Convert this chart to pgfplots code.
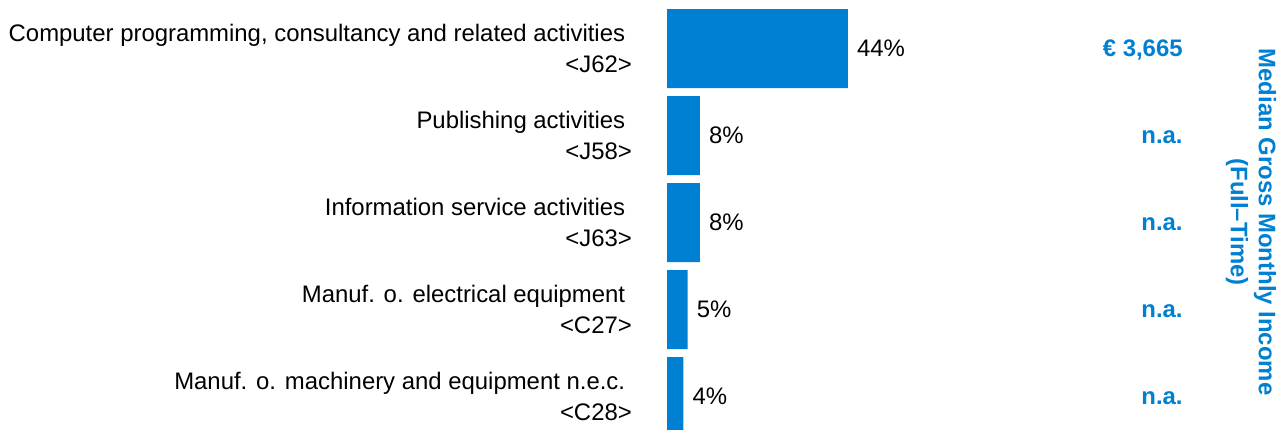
\documentclass[border=0pt]{standalone}
\usepackage{fontspec}
\setmainfont{Liberation Sans}
\usepackage{pgfplots}
\pgfplotsset{compat=1.18}
\definecolor{barblue}{HTML}{0080D2}
\newcommand{\chartfont}{\fontsize{23.9}{30.5}\selectfont}

\begin{document}
\begin{tikzpicture}
\path[use as bounding box] (0,0) rectangle (1284pt,-430pt);
\begin{axis}[
  at={(667pt,-5pt)}, anchor=north west,
  scale only axis, width=411pt, height=435pt,
  xmin=0, xmax=100, ymin=-0.5, ymax=4.5, y dir=reverse,
  clip=false,
  axis line style={draw=none},
  xtick=\empty,
  ytick={0,1,2,3,4},
  major tick length=0pt,
  yticklabels={
    {Computer programming, consultancy and related activities\kern0.28em\\<J62>},
    {Publishing activities\kern0.28em\\<J58>},
    {Information service activities\kern0.28em\\<J63>},
    {Manuf. o. electrical equipment\kern0.28em\\<C27>},
    {Manuf. o. machinery and equipment n.e.c.\kern0.28em\\<C28>}},
  yticklabel style={align=right, anchor=east, inner sep=0pt, xshift=-35pt, font=\chartfont},
  xbar, bar width=0.908,
  point meta=x,
  /pgf/number format/assume math mode=true,
  nodes near coords={\pgfmathprintnumber{\pgfplotspointmeta}\%},
  nodes near coords style={anchor=west, inner sep=0pt, xshift=9pt, font=\chartfont, text=black},
]
\addplot[fill=barblue, draw=none] coordinates {(44,0) (8,1) (8,2) (5,3) (4,4)};

% income column
\node[anchor=base east, inner sep=0pt, yshift=-8pt, font=\chartfont\bfseries, text=barblue] at (axis cs:125.5,0) {€ 3,665};
\node[anchor=base east, inner sep=0pt, yshift=-8pt, font=\chartfont\bfseries, text=barblue] at (axis cs:125.5,1) {n.a.};
\node[anchor=base east, inner sep=0pt, yshift=-8pt, font=\chartfont\bfseries, text=barblue] at (axis cs:125.5,2) {n.a.};
\node[anchor=base east, inner sep=0pt, yshift=-8pt, font=\chartfont\bfseries, text=barblue] at (axis cs:125.5,3) {n.a.};
\node[anchor=base east, inner sep=0pt, yshift=-8pt, font=\chartfont\bfseries, text=barblue] at (axis cs:125.5,4) {n.a.};
\end{axis}
\node[rotate=-90, align=center, inner sep=0pt, font=\fontsize{23.9}{28}\selectfont\bfseries, text=barblue] at (1251pt,-222pt) {Median Gross Monthly Income\\(Full\textendash Time)};
\end{tikzpicture}
\end{document}
